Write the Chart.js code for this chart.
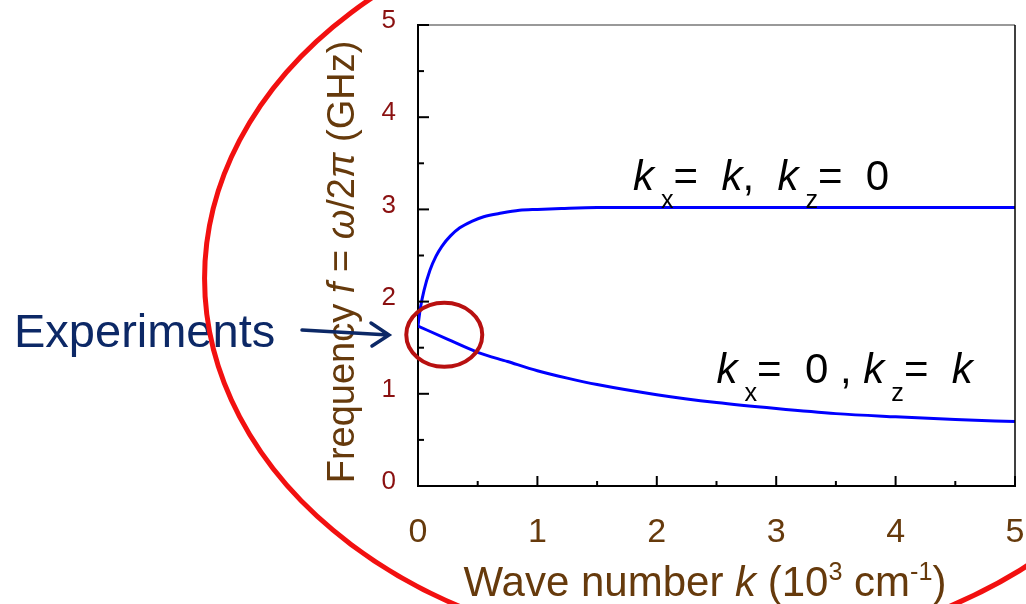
<!DOCTYPE html>
<html>
<head>
<meta charset="utf-8">
<script src="https://cdn.jsdelivr.net/npm/chart.js@4/dist/chart.umd.min.js"></script>
<style>
  html, body { margin: 0; padding: 0; background: #fff; overflow: hidden; }
  canvas { display: block; }
</style>
</head>
<body>
<canvas id="chart" width="1040" height="604"></canvas>
<script>
// k_x = k, k_z = 0 branch (surface-like mode)
const kUpper = [0, 0.02, 0.05, 0.1, 0.15, 0.2, 0.27, 0.35, 0.45, 0.55, 0.7, 0.85, 1.0, 1.2, 1.5, 2, 3, 4, 5];
const fUpper = [1.74, 1.93, 2.12, 2.34, 2.49, 2.60, 2.71, 2.80, 2.87, 2.92, 2.96, 2.99, 3.00, 3.01, 3.02, 3.02, 3.02, 3.02, 3.02];

// k_x = 0, k_z = k branch (backward volume mode)
const kLower = [0, 0.25, 0.5, 0.75, 1.0, 1.25, 1.5, 2.0, 2.5, 3.0, 3.5, 4.0, 4.5, 5.0];
const fLower = [1.735, 1.59, 1.45, 1.35, 1.25, 1.17, 1.10, 0.99, 0.905, 0.84, 0.785, 0.75, 0.72, 0.70];

const xRange = [0, 5];
const yRange = [0, 5];

const FONT = '"Liberation Sans", Arial, sans-serif';
const BROWN = '#663a0c';
const DARKRED = '#8a1010';
const NAVY = '#0c2866';

// rich text pieces: t = text, it = italic, sub / sup
const label1 = [
  { t: 'k', it: true }, { t: ' x', sub: true }, { t: '=' }, { t: '  ' }, { t: 'k', it: true },
  { t: ',' }, { t: '  ' }, { t: 'k', it: true }, { t: ' z', sub: true }, { t: '=' }, { t: '  0' }
];
const label2 = [
  { t: 'k', it: true }, { t: ' x', sub: true }, { t: '=' }, { t: '  0 ,' }, { t: ' ' },
  { t: 'k', it: true }, { t: ' z', sub: true }, { t: '=' }, { t: '  ' }, { t: 'k', it: true }
];
const xTitle = [
  { t: 'Wave number ' }, { t: 'k', it: true }, { t: ' (10' }, { t: '3', sup: true },
  { t: ' cm' }, { t: '-1', sup: true }, { t: ')' }
];
const yTitle = [
  { t: 'Frequency ' }, { t: 'f', it: true }, { t: ' = ' }, { t: 'ω', it: true },
  { t: '/2' }, { t: 'π', it: true }, { t: ' (GHz)' }
];

function toPoints(xs, ys) {
  return xs.map((v, i) => ({ x: v, y: ys[i] }));
}

function richWidth(ctx, segs, size) {
  let w = 0;
  for (const s of segs) {
    const fs = (s.sub || s.sup) ? size * 0.6 : size;
    ctx.font = (s.it ? 'italic ' : '') + fs + 'px ' + FONT;
    w += ctx.measureText(s.t).width;
  }
  return w;
}

function drawRich(ctx, segs, x, y, size) {
  ctx.textBaseline = 'alphabetic';
  ctx.textAlign = 'left';
  for (const s of segs) {
    const fs = (s.sub || s.sup) ? size * 0.6 : size;
    ctx.font = (s.it ? 'italic ' : '') + fs + 'px ' + FONT;
    let dy = 0;
    if (s.sub) dy = size * 0.43;
    if (s.sup) dy = -size * 0.37;
    ctx.fillText(s.t, x, y + dy);
    x += ctx.measureText(s.t).width;
  }
}

const overlay = {
  id: 'overlay',
  afterDraw(chart) {
    const { ctx, chartArea: a } = chart;
    const x = chart.scales.x, y = chart.scales.y;
    ctx.save();

    // frame: grey top, black right
    ctx.lineWidth = 2;
    ctx.strokeStyle = '#999';
    ctx.beginPath();
    ctx.moveTo(a.left + 1, a.top);
    ctx.lineTo(a.right, a.top);
    ctx.stroke();
    ctx.lineWidth = 1.5;
    ctx.strokeStyle = '#000';
    ctx.beginPath();
    ctx.moveTo(a.right, a.top);
    ctx.lineTo(a.right, a.bottom);
    ctx.stroke();

    // inward ticks, major every 1, minor every 0.5
    ctx.lineWidth = 2;
    for (let v = 0; v <= 5; v += 0.5) {
      const major = v % 1 === 0;
      const px = x.getPixelForValue(v);
      ctx.beginPath();
      ctx.moveTo(px, a.bottom);
      ctx.lineTo(px, a.bottom - (major ? 10 : 5));
      ctx.stroke();
      const py = y.getPixelForValue(v);
      ctx.beginPath();
      ctx.moveTo(a.left, py);
      ctx.lineTo(a.left + (major ? 11 : 6), py);
      ctx.stroke();
    }

    // axis titles
    ctx.fillStyle = BROWN;
    const xs = 42;
    const xw = richWidth(ctx, xTitle, xs);
    drawRich(ctx, xTitle, 705 - xw / 2, 596, xs);

    const ys = 38;
    const yw = richWidth(ctx, yTitle, ys);
    ctx.save();
    ctx.translate(354, 262 + yw / 2);
    ctx.rotate(-Math.PI / 2);
    drawRich(ctx, yTitle, 0, 0, ys);
    ctx.restore();

    // curve labels
    ctx.fillStyle = '#000';
    drawRich(ctx, label1, x.getPixelForValue(1.80), y.getPixelForValue(3.21), 42);
    drawRich(ctx, label2, x.getPixelForValue(2.50), y.getPixelForValue(1.115), 42);

    // "Experiments" with arrow
    ctx.fillStyle = NAVY;
    ctx.font = '47px ' + FONT;
    ctx.textBaseline = 'alphabetic';
    ctx.fillText('Experiments', 14, 347);
    ctx.strokeStyle = NAVY;
    ctx.lineWidth = 3.5;
    ctx.lineCap = 'round';
    ctx.beginPath();
    ctx.moveTo(302, 330);
    ctx.lineTo(389, 335);
    ctx.moveTo(371, 323);
    ctx.lineTo(389, 335);
    ctx.lineTo(372, 346);
    ctx.stroke();

    // small circle around the k = 0 region
    const cx = x.getPixelForValue(0.22), cy = y.getPixelForValue(1.64);
    ctx.strokeStyle = '#b81010';
    ctx.lineWidth = 4;
    ctx.beginPath();
    ctx.ellipse(cx, cy, 38, 32, 0, 0, Math.PI * 2);
    ctx.stroke();

    // big red ellipse
    const bx = x.getPixelForValue(2.40), by = y.getPixelForValue(2.25);
    ctx.strokeStyle = '#f21010';
    ctx.lineWidth = 5;
    ctx.beginPath();
    ctx.ellipse(bx, by, 500, 376, 0, 0, Math.PI * 2);
    ctx.stroke();

    ctx.restore();
  }
};

const canvas = document.getElementById('chart');
const chart = new Chart(canvas, {
  type: 'scatter',
  data: {
    datasets: [{
      label: 'kx = k, kz = 0',
      data: toPoints(kUpper, fUpper),
      showLine: true,
      borderColor: '#0000ff',
      borderWidth: 3,
      pointRadius: 0,
      cubicInterpolationMode: 'monotone'
    }, {
      label: 'kx = 0, kz = k',
      data: toPoints(kLower, fLower),
      showLine: true,
      borderColor: '#0000ff',
      borderWidth: 3,
      pointRadius: 0,
      cubicInterpolationMode: 'monotone'
    }]
  },
  options: {
    responsive: false,
    animation: false,
    layout: { padding: { top: 25, right: 25, left: 0, bottom: 0 } },
    plugins: {
      legend: { display: false },
      tooltip: { enabled: false }
    },
    scales: {
      x: {
        type: 'linear',
        min: xRange[0],
        max: xRange[1],
        grid: { display: false },
        border: { color: '#000', width: 2 },
        ticks: {
          stepSize: 1,
          color: BROWN,
          padding: 18,
          font: { family: FONT, size: 34 }
        },
        afterFit(scale) {
          scale.height = 118;
          scale.paddingLeft = 0;
          scale.paddingRight = 0;
        }
      },
      y: {
        min: yRange[0],
        max: yRange[1],
        grid: { display: false },
        border: { color: '#000', width: 2 },
        ticks: {
          stepSize: 1,
          color: DARKRED,
          padding: 14,
          labelOffset: -4,
          font: { family: FONT, size: 26 }
        },
        afterFit(scale) {
          scale.width = 418;
          scale.paddingTop = 0;
          scale.paddingBottom = 0;
        }
      }
    }
  },
  plugins: [overlay]
});
</script>
</body>
</html>
